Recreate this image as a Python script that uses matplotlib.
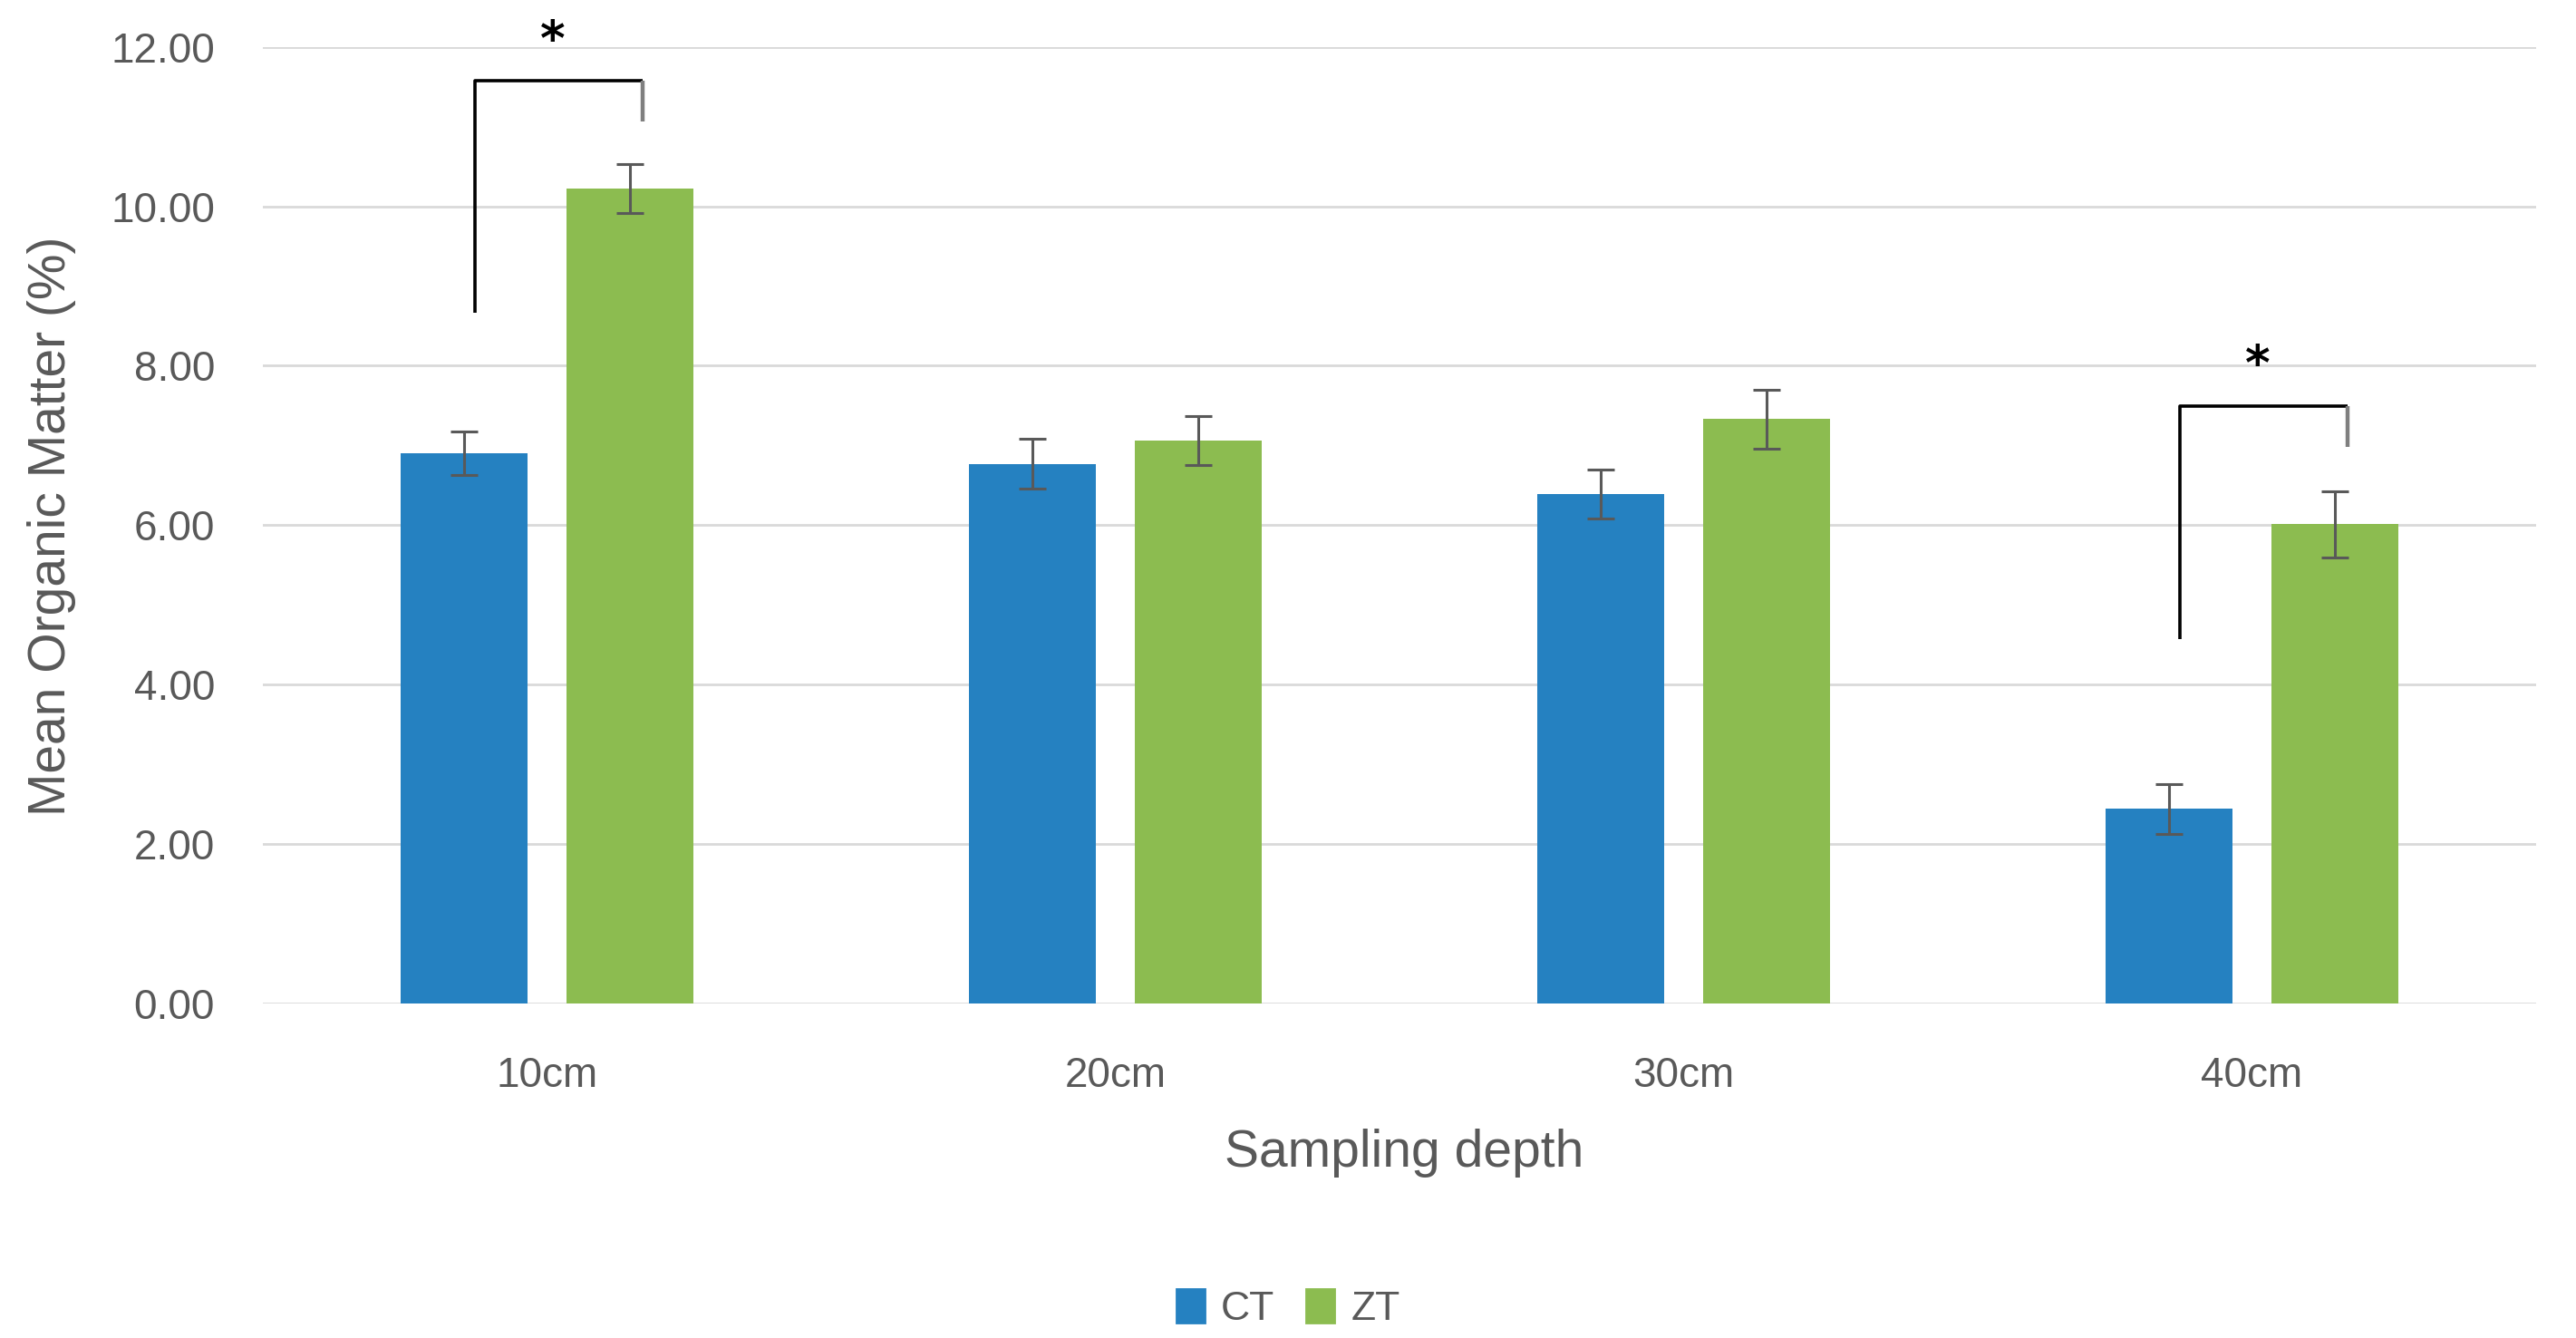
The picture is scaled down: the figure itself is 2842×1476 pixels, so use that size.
import matplotlib
matplotlib.use('Agg')
import matplotlib.pyplot as plt
import numpy as np
from matplotlib.patches import Patch

plt.rcParams['font.family'] = ['Liberation Sans', 'DejaVu Sans']

# data
depths = ['10cm', '20cm', '30cm', '40cm']
ct_mean = [6.90, 6.77, 6.39, 2.44]
ct_err = [0.27, 0.31, 0.31, 0.31]
zt_mean = [10.22, 7.06, 7.33, 6.01]
zt_err = [0.31, 0.31, 0.37, 0.41]
yticks = [0, 2, 4, 6, 8, 10, 12]

# significance brackets: (category index, left foot, top, right foot)
brackets = [(0, 8.66, 11.57, 11.06), (3, 4.57, 7.49, 6.98)]

ct_color = '#2581c1'
zt_color = '#8cbc50'
text_color = '#595959'
grid_color = '#d9d9d9'

fig = plt.figure(figsize=(14.21, 7.38), dpi=200)
ax = fig.add_axes([0.102, 0.25, 0.8825, 0.715])

x = np.arange(len(depths))
w = 0.224
off = 0.146

ax.bar(x - off, ct_mean, w, color=ct_color, zorder=2)
ax.bar(x + off, zt_mean, w, color=zt_color, zorder=2)
ax.errorbar(x - off, ct_mean, yerr=ct_err, fmt='none', ecolor=text_color,
            elinewidth=1.1, capsize=5.5, capthick=1.1, zorder=3)
ax.errorbar(x + off, zt_mean, yerr=zt_err, fmt='none', ecolor=text_color,
            elinewidth=1.1, capsize=5.5, capthick=1.1, zorder=3)

for i, y_left, y_top, y_right in brackets:
    xl = i - 0.127
    xr = i + 0.168
    ax.plot([xl, xl, xr], [y_left, y_top, y_top], color='black', lw=1.3,
            solid_capstyle='butt', zorder=4, clip_on=False)
    ax.plot([xr, xr], [y_top, y_right], color='#7f7f7f', lw=1.6,
            solid_capstyle='butt', zorder=4, clip_on=False)
    ax.text((xl + xr) / 2 - 0.01, y_top + 0.5, '*', ha='center', va='center',
            fontsize=19, fontweight='bold', color='black', family='DejaVu Sans',
            clip_on=False)

ax.set_xlim(-0.5, len(depths) - 0.5)
ax.set_ylim(0, 12)
ax.set_yticks(yticks)
ax.set_yticklabels([f'{v:.2f}' for v in yticks])
ax.set_xticks(x)
ax.set_xticklabels(depths)
ax.tick_params(axis='y', length=0, pad=19, labelsize=16.5, labelcolor=text_color)
ax.tick_params(axis='x', length=0, pad=21, labelsize=16.5, labelcolor=text_color)

ax.grid(axis='y', color=grid_color, lw=1.0, zorder=0)
for s in ax.spines.values():
    s.set_visible(False)

fig.text(0.545, 0.138, 'Sampling depth', ha='center', va='center',
         fontsize=20.5, color=text_color)
fig.text(0.02, 0.607, 'Mean Organic Matter (%)', ha='center', va='center',
         rotation=90, fontsize=20.5, color=text_color)

handles = [Patch(color=ct_color, label='CT'), Patch(color=zt_color, label='ZT')]
fig.legend(handles=handles, loc='center', bbox_to_anchor=(0.5, 0.022), ncol=2,
           frameon=False, fontsize=16, labelcolor=text_color, handlelength=0.7,
           handleheight=0.9, handletextpad=0.4, columnspacing=0.8)

fig.savefig('out.png', dpi=200)
